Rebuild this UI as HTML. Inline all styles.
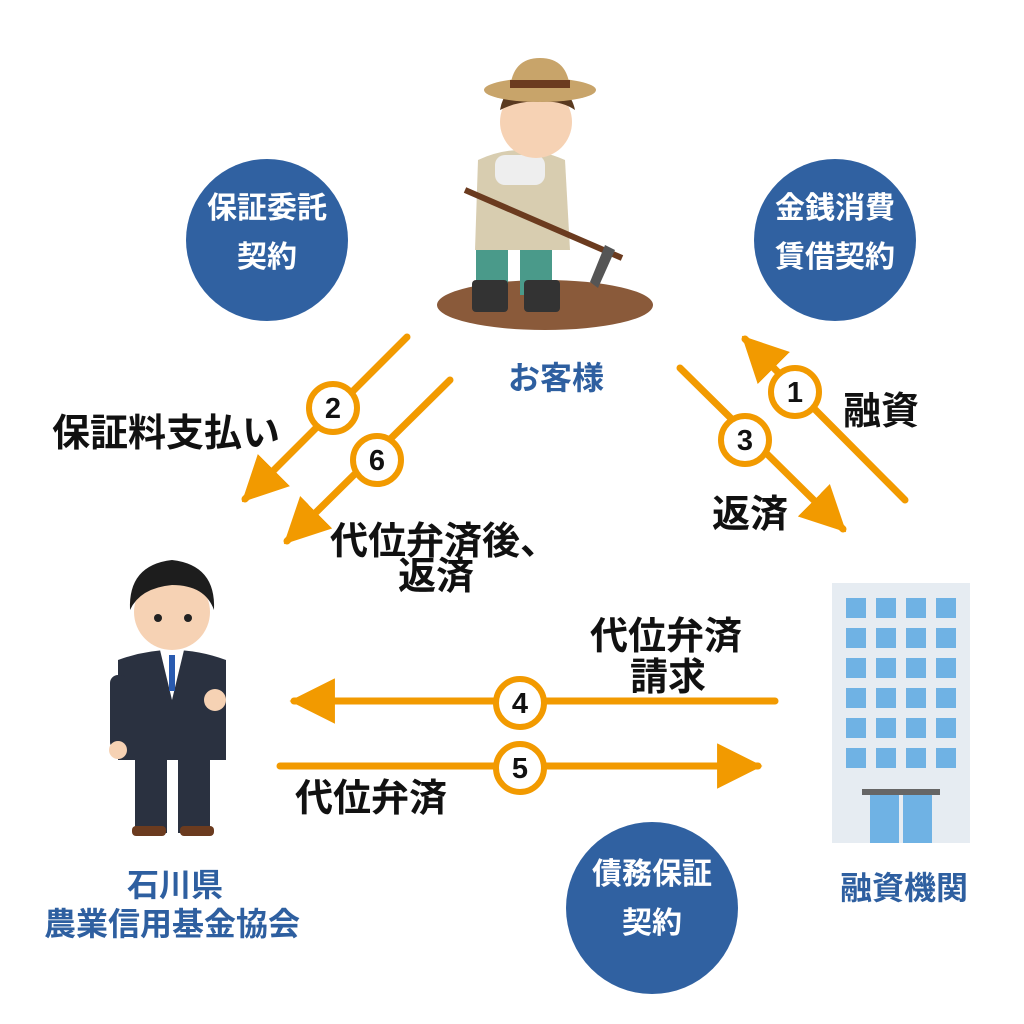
<!DOCTYPE html>
<html><head><meta charset="utf-8"><style>
html,body{margin:0;padding:0;background:#fff}
svg{display:block}
text{font-family:"Liberation Sans","Noto Sans CJK JP",sans-serif;font-weight:bold}
</style></head><body>
<svg width="1024" height="1024" viewBox="0 0 1024 1024" xmlns="http://www.w3.org/2000/svg">
<defs>
<marker id="ah" viewBox="0 0 10 10" refX="9" refY="5" markerWidth="6.5" markerHeight="6.5" orient="auto" markerUnits="strokeWidth">
<path d="M0,0 L10,5 L0,10 z" fill="#f29a00"/></marker>
</defs>
<circle cx="267" cy="240" r="81" fill="#3061a1"/>
<text x="267" y="218" font-size="30" fill="#fff" text-anchor="middle">保証委託</text>
<text x="267" y="267" font-size="30" fill="#fff" text-anchor="middle">契約</text>
<circle cx="835" cy="240" r="81" fill="#3061a1"/>
<text x="835" y="218" font-size="30" fill="#fff" text-anchor="middle">金銭消費</text>
<text x="835" y="267" font-size="30" fill="#fff" text-anchor="middle">賃借契約</text>
<circle cx="652" cy="908" r="86" fill="#3061a1"/>
<text x="652" y="884" font-size="30" fill="#fff" text-anchor="middle">債務保証</text>
<text x="652" y="933" font-size="30" fill="#fff" text-anchor="middle">契約</text>
<g stroke="#f29a00" stroke-width="7" stroke-linecap="round" fill="none">
<line x1="407" y1="337" x2="245" y2="499" marker-end="url(#ah)"/>
<line x1="450" y1="380" x2="287" y2="541" marker-end="url(#ah)"/>
<line x1="905" y1="500" x2="745" y2="339" marker-end="url(#ah)"/>
<line x1="680" y1="368" x2="843" y2="529" marker-end="url(#ah)"/>
<line x1="775" y1="701" x2="294" y2="701" marker-end="url(#ah)"/>
<line x1="280" y1="766" x2="758" y2="766" marker-end="url(#ah)"/>
</g>
<g stroke="#f29a00" stroke-width="6" fill="#fff">
<circle cx="333" cy="408" r="24"/><circle cx="377" cy="460" r="24"/>
<circle cx="795" cy="392" r="24"/><circle cx="745" cy="440" r="24"/>
<circle cx="520" cy="703" r="24"/><circle cx="520" cy="768" r="24"/>
</g>
<g font-size="29" fill="#111" text-anchor="middle">
<text x="333" y="418">2</text><text x="377" y="470">6</text>
<text x="795" y="402">1</text><text x="745" y="450">3</text>
<text x="520" y="713">4</text><text x="520" y="778">5</text>
</g>
<g font-size="38" fill="#111">
<text x="52" y="446">保証料支払い</text>
<text x="330" y="554">代位弁済後、</text>
<text x="398" y="589">返済</text>
<text x="712" y="527">返済</text>
<text x="843" y="424">融資</text>
<text x="590" y="649">代位弁済</text>
<text x="630" y="690">請求</text>
<text x="295" y="811">代位弁済</text>
</g>
<g font-size="32" fill="#2e5fa0" text-anchor="middle">
<text x="556" y="389">お客様</text>
<text x="904" y="899">融資機関</text>
<text x="175" y="896">石川県</text>
<text x="172" y="935">農業信用基金協会</text>
</g>
<rect x="832" y="583" width="138" height="260" fill="#e6ecf2"/>
<g fill="#6fb2e4">
<rect x="846" y="598" width="20" height="20"/><rect x="876" y="598" width="20" height="20"/><rect x="906" y="598" width="20" height="20"/><rect x="936" y="598" width="20" height="20"/>
<rect x="846" y="628" width="20" height="20"/><rect x="876" y="628" width="20" height="20"/><rect x="906" y="628" width="20" height="20"/><rect x="936" y="628" width="20" height="20"/>
<rect x="846" y="658" width="20" height="20"/><rect x="876" y="658" width="20" height="20"/><rect x="906" y="658" width="20" height="20"/><rect x="936" y="658" width="20" height="20"/>
<rect x="846" y="688" width="20" height="20"/><rect x="876" y="688" width="20" height="20"/><rect x="906" y="688" width="20" height="20"/><rect x="936" y="688" width="20" height="20"/>
<rect x="846" y="718" width="20" height="20"/><rect x="876" y="718" width="20" height="20"/><rect x="906" y="718" width="20" height="20"/><rect x="936" y="718" width="20" height="20"/>
<rect x="846" y="748" width="20" height="20"/><rect x="876" y="748" width="20" height="20"/><rect x="906" y="748" width="20" height="20"/><rect x="936" y="748" width="20" height="20"/>
<rect x="870" y="795" width="29" height="48"/><rect x="903" y="795" width="29" height="48"/>
</g>
<rect x="862" y="789" width="78" height="6" fill="#666"/>
<ellipse cx="545" cy="305" rx="108" ry="25" fill="#8a5a3a"/>
<rect x="476" y="245" width="32" height="50" fill="#4a9a8a"/>
<rect x="520" y="245" width="32" height="50" fill="#4a9a8a"/>
<rect x="472" y="280" width="36" height="32" rx="4" fill="#333"/>
<rect x="524" y="280" width="36" height="32" rx="4" fill="#333"/>
<path d="M478,160 Q520,140 565,160 L570,250 L475,250 Z" fill="#d8cdb0"/>
<rect x="495" y="155" width="50" height="30" fill="#eee" rx="10"/>
<line x1="465" y1="190" x2="622" y2="258" stroke="#6b3b1f" stroke-width="6"/>
<path d="M605,245 L615,250 L598,288 L590,282Z" fill="#555"/>
<circle cx="536" cy="122" r="36" fill="#f6d2b4"/>
<path d="M500,110 Q505,80 540,82 Q570,85 575,110 Q560,100 540,102 Q520,100 500,110Z" fill="#5a3a20"/>
<ellipse cx="540" cy="90" rx="56" ry="12" fill="#c8a46a"/>
<path d="M510,90 Q512,58 540,58 Q568,58 570,90Z" fill="#c8a46a"/>
<rect x="510" y="80" width="60" height="8" fill="#6b3b1f"/>
<path d="M118,660 Q172,640 226,660 L226,760 L118,760Z" fill="#2a3140"/>
<path d="M160,650 L172,700 L184,650Z" fill="#fff"/>
<rect x="169" y="655" width="6" height="36" fill="#2a5bb0"/>
<rect x="135" y="755" width="32" height="78" fill="#2a3140"/>
<rect x="178" y="755" width="32" height="78" fill="#2a3140"/>
<rect x="132" y="826" width="34" height="10" rx="4" fill="#6b3b1f"/>
<rect x="180" y="826" width="34" height="10" rx="4" fill="#6b3b1f"/>
<rect x="110" y="675" width="18" height="75" rx="8" fill="#2a3140"/>
<circle cx="118" cy="750" r="9" fill="#f6d2b4"/>
<circle cx="215" cy="700" r="11" fill="#f6d2b4"/>
<circle cx="172" cy="612" r="38" fill="#f6d2b4"/>
<path d="M130,610 Q128,565 172,560 Q216,565 214,610 Q205,585 172,585 Q140,588 130,610Z" fill="#1d1d1d"/>
<circle cx="158" cy="618" r="4" fill="#222"/><circle cx="188" cy="618" r="4" fill="#222"/>
</svg>
</body></html>
